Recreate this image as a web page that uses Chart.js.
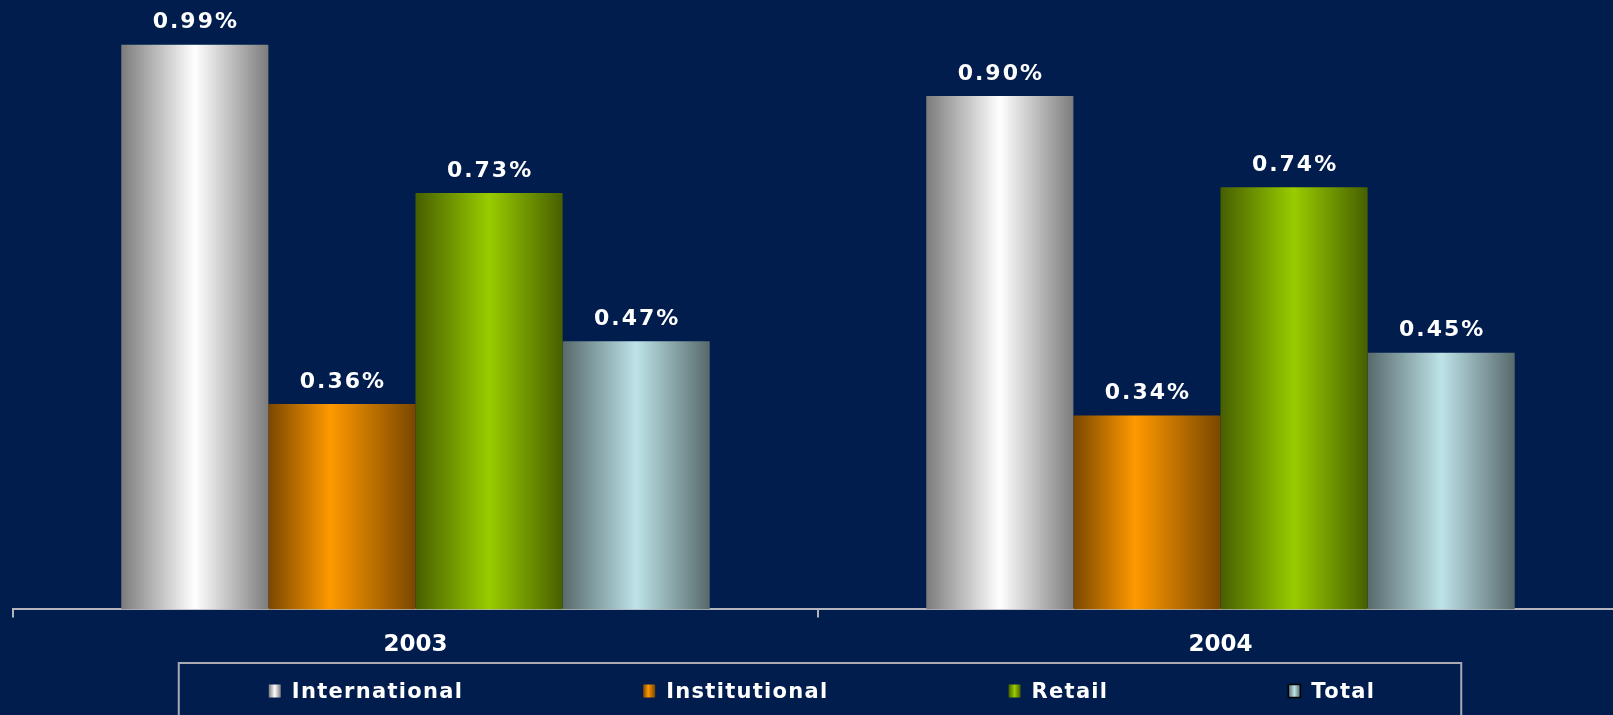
<!DOCTYPE html>
<html>
<head>
<meta charset="utf-8">
<script src="https://cdn.jsdelivr.net/npm/chart.js@4.4.1/dist/chart.umd.min.js"></script>
<style>
  html, body { margin: 0; padding: 0; background: #001d4e; overflow: hidden; }
  #wrap { width: 1640px; height: 715px; }
</style>
</head>
<body>
<div id="wrap"><canvas id="barChart"></canvas></div>
<script>
// Ratios by business line, per year (in %)
const years = ['2003', '2004'];
const international = [0.99, 0.90];
const institutional = [0.36, 0.34];
const retail = [0.73, 0.74];
const total = [0.47, 0.45];
const seriesNames = ['International', 'Institutional', 'Retail', 'Total'];

// Horizontal shading for each series: edge colour, centre colour, centre position
const shades = [
    { edge: '#7c7c7c', mid: '#ffffff', at: 0.5 },
    { edge: '#7a4700', mid: '#ff9900', at: 0.42 },
    { edge: '#475f00', mid: '#99cc00', at: 0.5 },
    { edge: '#57696b', mid: '#bde3e8', at: 0.5 }
];

const FONT = '"DejaVu Sans", Verdana, sans-serif';

function makeShade(ctx, left, width, s) {
    const g = ctx.createLinearGradient(left, 0, left + width, 0);
    g.addColorStop(0, s.edge);
    g.addColorStop(s.at, s.mid);
    g.addColorStop(1, s.edge);
    return g;
}

// Gives every bar its own left-to-right gradient
const barShading = {
    id: 'barShading',
    beforeDatasetsDraw(chart) {
        const ctx = chart.ctx;
        chart.data.datasets.forEach((ds, i) => {
            chart.getDatasetMeta(i).data.forEach(bar => {
                const left = bar.x - bar.width / 2;
                bar.options = Object.assign({}, bar.options, {
                    backgroundColor: makeShade(ctx, left, bar.width, shades[i])
                });
            });
        });
    }
};

// Value above each bar
const valueLabels = {
    id: 'valueLabels',
    afterDatasetsDraw(chart) {
        const ctx = chart.ctx;
        ctx.save();
        ctx.font = 'bold 22px ' + FONT;
        ctx.letterSpacing = '2px';
        ctx.fillStyle = '#ffffff';
        ctx.textAlign = 'center';
        ctx.textBaseline = 'alphabetic';
        chart.data.datasets.forEach((ds, i) => {
            chart.getDatasetMeta(i).data.forEach((bar, j) => {
                ctx.fillText(ds.data[j].toFixed(2) + '%', bar.x + 1, bar.y - 16.5);
            });
        });
        ctx.restore();
    }
};

// Boxed legend along the bottom
const boxLegend = {
    id: 'boxLegend',
    afterDraw(chart) {
        const ctx = chart.ctx;
        const area = chart.chartArea;
        const markW = 12, markH = 13, textGap = 11, itemGap = 180;
        ctx.save();
        ctx.font = 'bold 21px ' + FONT;
        ctx.letterSpacing = '1.3px';
        const widths = seriesNames.map(n => markW + textGap + ctx.measureText(n).width);
        const full = widths.reduce((a, b) => a + b, 0) + itemGap * (widths.length - 1);
        const cx = (area.left + area.right) / 2 + 4;
        const startX = cx - full / 2;
        const cy = chart.height - 22;

        // frame
        ctx.strokeStyle = '#a9a9b1';
        ctx.lineWidth = 2;
        ctx.beginPath();
        ctx.moveTo(startX - 90, chart.height + 5);
        ctx.lineTo(startX - 90, cy - 30);
        ctx.lineTo(startX + full + 86, cy - 30);
        ctx.lineTo(startX + full + 86, chart.height + 5);
        ctx.stroke();

        let x = startX;
        seriesNames.forEach((name, i) => {
            ctx.fillStyle = makeShade(ctx, x, markW, shades[i]);
            ctx.fillRect(x, cy - markH / 2 - 2, markW, markH);
            if (i === 3) {
                ctx.strokeStyle = '#000000';
                ctx.lineWidth = 1.5;
                ctx.strokeRect(x, cy - markH / 2 - 2, markW, markH);
            }
            ctx.fillStyle = '#ffffff';
            ctx.textAlign = 'left';
            ctx.textBaseline = 'middle';
            ctx.fillText(name, x + markW + textGap, cy);
            x += widths[i] + itemGap;
        });
        ctx.restore();
    }
};

const seriesData = [international, institutional, retail, total];

new Chart(document.getElementById('barChart'), {
    type: 'bar',
    data: {
        labels: years,
        datasets: seriesNames.map((name, i) => ({
            label: name,
            data: seriesData[i],
            backgroundColor: shades[i].mid,
            borderWidth: 0,
            barPercentage: 1,
            categoryPercentage: 0.731
        }))
    },
    options: {
        responsive: true,
        maintainAspectRatio: false,
        animation: false,
        layout: { padding: { top: 39, left: 13, right: 17, bottom: 42 } },
        plugins: {
            legend: { display: false },
            tooltip: { enabled: false }
        },
        scales: {
            x: {
                grid: {
                    offset: true,
                    drawOnChartArea: false,
                    drawTicks: true,
                    tickLength: 8,
                    color: '#b4b4bc',
                    lineWidth: 2
                },
                border: { display: true, color: '#b4b4bc', width: 2 },
                ticks: {
                    color: '#ffffff',
                    padding: 14,
                    font: { family: FONT, size: 23, weight: 'bold' }
                }
            },
            y: {
                display: false,
                min: 0,
                max: 1.0
            }
        }
    },
    plugins: [barShading, valueLabels, boxLegend]
});
</script>
</body>
</html>
